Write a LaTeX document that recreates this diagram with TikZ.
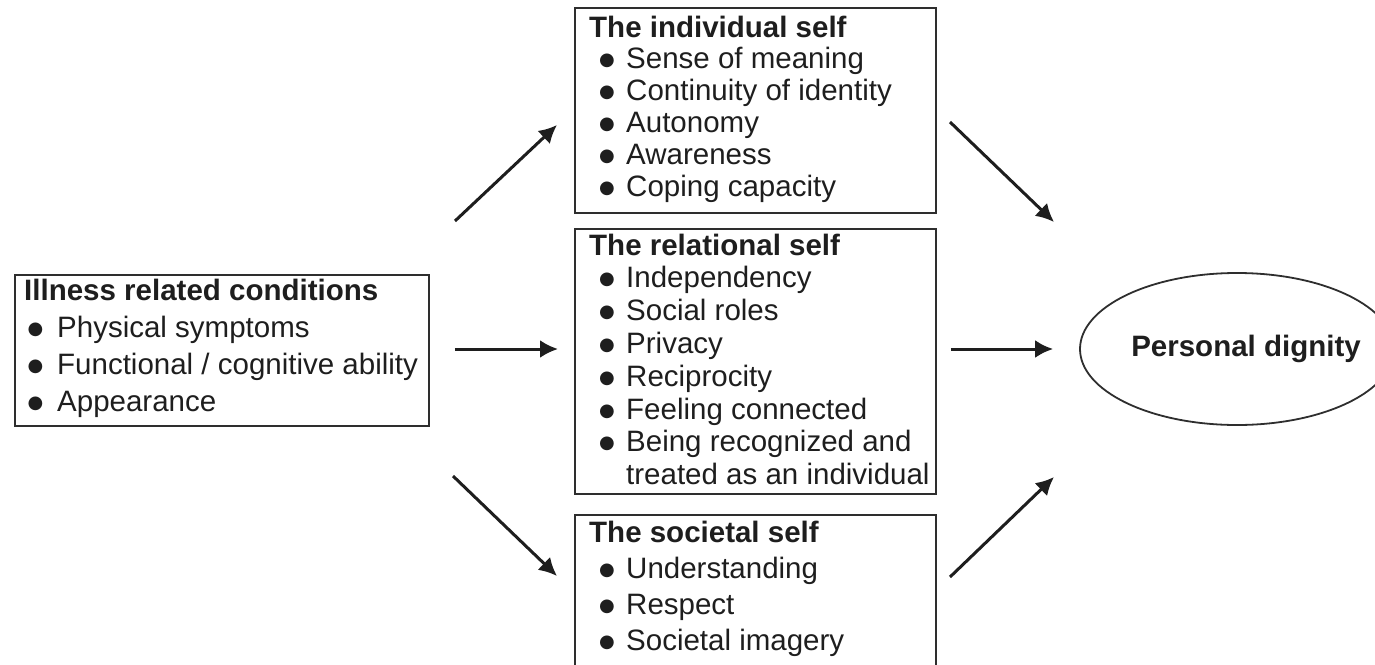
\documentclass[tikz,border=0pt]{standalone}
\usepackage{fontspec}
\setmainfont{Liberation Sans}
\newfontfamily\symfont{DejaVu Sans}
\usetikzlibrary{arrows.meta,shapes.geometric}

\definecolor{ink}{HTML}{1E1E1E}
\definecolor{frame}{HTML}{2E2E2E}

% round list marker
\newcommand\dotmark{\raisebox{3pt}{\symfont\fontsize{18}{18}\selectfont ●}}
% marker column for the three panels in the middle
\newcommand\bul{\makebox[37pt][l]{\hspace*{10pt}\dotmark}}
% marker column for the left panel
\newcommand\bulL{\makebox[33pt][l]{\hspace*{3.5pt}\dotmark}}

\tikzset{
  panel/.style={draw=frame, line width=1.8pt, rectangle, inner sep=0pt, anchor=north west},
  listtext/.style={inner sep=0pt, anchor=base west, text=ink},
  flow/.style={draw=ink, line width=3pt, -{Latex[length=18pt,width=18pt]}},
}

\begin{document}
\begin{tikzpicture}[x=1pt,y=-1pt]
\useasboundingbox (0,0) rectangle (1375,664);

% ---- boxes ----
\node[panel, minimum width=414, minimum height=151] (ill) at (14,274) {};
\node[panel, minimum width=361, minimum height=205] (ind) at (574,7) {};
\node[panel, minimum width=361, minimum height=265] (rel) at (574,228) {};
\node[panel, minimum width=361, minimum height=200] (soc) at (574,514) {};
\node[ellipse, draw=frame, line width=1.8pt, minimum width=314, minimum height=152, inner sep=0pt] (dig) at (1237,349) {};

% ---- box contents ----
\node[listtext, font=\fontsize{29.5}{37.3}\selectfont] (illtxt) at (24,300) {%
  \begin{tabular}[t]{@{}l@{}l@{}}
  \multicolumn{2}{@{}l@{}}{\bfseries Illness related conditions}\\
  \bulL & Physical symptoms\\
  \bulL & Functional / cognitive ability\\
  \bulL & Appearance
  \end{tabular}};

\node[listtext, font=\fontsize{29.5}{31.8}\selectfont] (indtxt) at (589,37) {%
  \begin{tabular}[t]{@{}l@{}l@{}}
  \multicolumn{2}{@{}l@{}}{\bfseries The individual self}\\
  \bul & Sense of meaning\\
  \bul & Continuity of identity\\
  \bul & Autonomy\\
  \bul & Awareness\\
  \bul & Coping capacity
  \end{tabular}};

\node[listtext, font=\fontsize{29.5}{32.8}\selectfont] (reltxt) at (589,255) {%
  \begin{tabular}[t]{@{}l@{}l@{}}
  \multicolumn{2}{@{}l@{}}{\bfseries The relational self}\\
  \bul & Independency\\
  \bul & Social roles\\
  \bul & Privacy\\
  \bul & Reciprocity\\
  \bul & Feeling connected\\
  \bul & Being recognized and\\
       & treated as an individual
  \end{tabular}};

\node[listtext, font=\fontsize{29.5}{36}\selectfont] (soctxt) at (589,542) {%
  \begin{tabular}[t]{@{}l@{}l@{}}
  \multicolumn{2}{@{}l@{}}{\bfseries The societal self}\\
  \bul & Understanding\\
  \bul & Respect\\
  \bul & Societal imagery
  \end{tabular}};

\node[text=ink, font=\fontsize{29.5}{32}\selectfont\bfseries, inner sep=0pt] (digtxt) at ([xshift=9pt]dig.center) {Personal dignity};

% ---- arrow end points ----
\coordinate (a1s) at (455,221);
\coordinate (a1e) at (557,125);
\coordinate (a3s) at (453,476);
\coordinate (a3e) at (557,576);
\coordinate (b1s) at (950,122);
\coordinate (b1e) at (1054,222);
\coordinate (b3s) at (950,577);
\coordinate (b3e) at (1054,477);

% ---- arrows ----
\draw[flow] (a1s) -- (a1e);
\draw[flow, shorten <=25pt, shorten >=16pt] (ill.east |- dig.west) -- (rel.west |- dig.west);
\draw[flow] (a3s) -- (a3e);
\draw[flow] (b1s) -- (b1e);
\draw[flow, shorten <=14pt, shorten >=26pt] (rel.east |- dig.west) -- (dig.west);
\draw[flow] (b3s) -- (b3e);
\end{tikzpicture}
\end{document}
